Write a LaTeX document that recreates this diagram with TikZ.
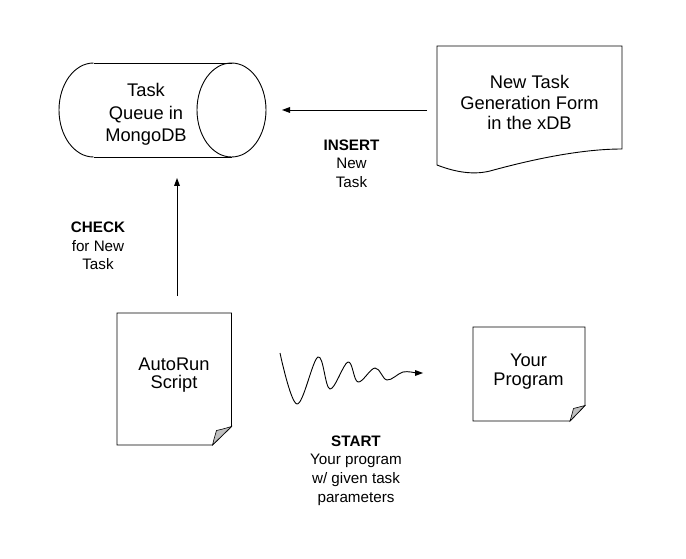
\documentclass[tikz,border=0pt]{standalone}
\usepackage{fontspec}
\setmainfont{Liberation Sans}
\tikzset{boxtext/.style={font=\fontsize{18.3}{#1}\selectfont}, boxtext/.default=20}
\begin{document}
\begin{tikzpicture}[x=1pt,y=1pt,line width=0.9pt]
\tikzstyle{every node}+=[inner sep=0pt, align=center]
\tikzstyle{tagtext}=[font=\fontsize{15.2}{18.7}\selectfont]
\tikzstyle{fold}=[black, line width=0.6pt, fill=black!25]
\useasboundingbox (0,0) rectangle (686,-559);
% task queue
\draw [black] (93.5,-63) -- (231.5,-63);
\draw [black] (93.5,-157) -- (231.5,-157);
\draw [black] (93.5,-63) arc (90:270:34.5pt and 47pt);
\draw [black] (231.5,-110) ellipse (34.5pt and 47pt);
\draw (146,-114.5) node (queue) [boxtext=22.5] {Task\\Queue in\\MongoDB};
% form
\draw [black] (437,-46) -- (622,-46) -- (622,-149) .. controls (580,-149) and (530,-160) .. (490,-171) .. controls (470,-176) and (450,-170) .. (437,-165) -- cycle;
\draw (529.5,-102.5) node (form) [boxtext=20.3] {New Task\\Generation Form\\in the xDB};
% autorun script
\draw [black] (117,-313) -- (231.5,-313) -- (231.5,-426.5) -- (212.5,-445) -- (117,-445) -- cycle;
\filldraw [fold] (212.5,-445) .. controls (214,-439) .. (216.5,-430.5) .. controls (223,-429) .. (231.5,-426.5) -- cycle;
\draw (174,-375) node (script) [boxtext=17.5] {AutoRun\\Script};
% your program
\draw [black] (473,-327) -- (585,-327) -- (585,-405.5) -- (570,-421) -- (473,-421) -- cycle;
\filldraw [fold] (570,-421) .. controls (571.5,-416) .. (573.5,-408.5) .. controls (579,-407.5) .. (585,-405.5) -- cycle;
\draw (528.5,-372) node (prog) [boxtext=19] {Your\\Program};
% labels
\draw (98,-246) node (check) [tagtext] {\textbf{CHECK}\\for New\\Task};
\draw (351.5,-163.5) node (insert) [tagtext] {\textbf{INSERT}\\New\\Task};
\draw (356,-470.5) node (start) [tagtext] {\textbf{START}\\Your program\\w/ given task\\parameters};
% arrows
\coordinate (check tail) at (177,-296);
\coordinate (check head) at (177,-178);
\draw [black] (check tail) -- ([yshift=-7]check head);
\fill [black] (check head) -- ++(-3,-8) -- ++(6,0) -- cycle;
\coordinate (insert tail) at (427,-110);
\coordinate (insert head) at (282,-110);
\draw [black] (insert tail) -- ([xshift=7]insert head);
\fill [black] (insert head) -- ++(8,3) -- ++(0,-6) -- cycle;
\coordinate (start tail) at (280,-353);
\coordinate (start head) at (423,-373);
\draw [black] plot [smooth, tension=0.6] coordinates {(start tail) (297,-404) (318,-357) (330,-389) (348,-362) (358,-382) (375,-368) (387,-380) (403,-372) (416,-373)};
\fill [black] (start head) -- ++(-8,3) -- ++(0,-6) -- cycle;
\end{tikzpicture}
\end{document}
